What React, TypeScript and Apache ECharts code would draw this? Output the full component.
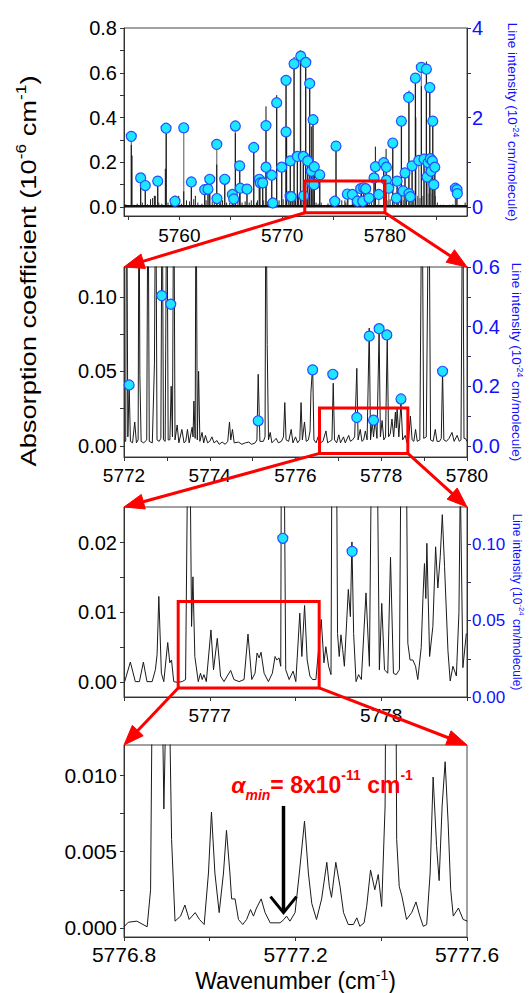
import React, { useEffect, useRef } from "react";
import * as echarts from "echarts";

const FONT = "'Liberation Sans', Arial, Helvetica, sans-serif";

// ---------- Panel 1 (overview) ----------
const xRangeP1 = [5754.62, 5787.98];
const yRangeP1 = [-0.04, 0.8];
const rRangeP1 = [-0.2, 4];
const xLabelsP1 = [5760, 5770, 5780];
const xTicksP1 = [5755, 5760, 5765, 5770, 5775, 5780, 5785];
const yLabelsP1 = [0, 0.2, 0.4, 0.6, 0.8];
const yTicksP1 = [0, 0.1, 0.2, 0.3, 0.4, 0.5, 0.6, 0.7, 0.8];
const rLabelsP1 = [0, 2, 4];
const rTicksP1 = [0, 1, 2, 3, 4];

// line intensities (wavenumber, 1e-24 cm/molecule)
const intensityP1 = [
  [5755.33, 1.58], [5756.24, 0.65], [5756.69, 0.48], [5757.9, 0.58], [5758.71, 1.76],
  [5759.58, 0.13], [5760.43, 1.77], [5761.17, 0.56], [5762.47, 0.39], [5762.79, 0.4],
  [5762.96, 0.62], [5763.64, 1.4], [5763.66, 0.19], [5764.42, 0.62], [5765.16, 0.28],
  [5765.29, 0.18], [5765.45, 1.81], [5765.87, 0.92], [5765.93, 0.42], [5766.58, 0.4],
  [5767.24, 1.33], [5767.78, 0.62], [5767.88, 0.54], [5768.11, 0.54], [5768.43, 1.82],
  [5768.43, 0.89], [5768.99, 0.71], [5769.09, 0.09], [5769.47, 2.33], [5769.96, 0.89],
  [5770.38, 2.83], [5770.38, 1.68], [5770.77, 0.24], [5770.89, 0.23], [5770.8, 1.03],
  [5771.16, 3.2], [5771.48, 1.13], [5771.81, 3.37], [5772.06, 1.13], [5772.1, 0.25],
  [5772.3, 3.23], [5772.49, 1.03], [5772.68, 2.76], [5772.84, 0.8], [5773.01, 1.95],
  [5772.9, 0.53], [5773.13, 0.9], [5773.1, 0.5], [5773.66, 0.72], [5775.12, 0.13],
  [5775.24, 1.36], [5776.34, 0.29], [5776.83, 0.28], [5777.32, 0.13], [5777.64, 0.41],
  [5777.84, 0.13], [5777.93, 0.43], [5778.13, 0.41], [5778.45, 0.2], [5778.94, 0.65],
  [5779.07, 0.9], [5779.4, 0.28], [5779.88, 0.99], [5780.14, 0.89], [5780.14, 0.6],
  [5780.37, 0.42], [5780.76, 1.43], [5781.11, 0.2], [5781.18, 0.58], [5781.6, 1.92],
  [5781.76, 0.36], [5781.95, 0.76], [5782.31, 2.45], [5782.34, 0.3], [5782.47, 0.23],
  [5782.64, 0.92], [5782.96, 2.88], [5783.29, 1.04], [5783.54, 3.12], [5783.8, 1.07],
  [5784.03, 3.08], [5784.09, 0.67], [5784.19, 0.99], [5784.36, 2.67], [5784.42, 1.08],
  [5784.49, 0.8], [5784.61, 1.03], [5784.65, 1.92], [5784.85, 0.89], [5784.75, 0.5],
  [5786.85, 0.42], [5787.01, 0.39], [5787.04, 0.3],
];

// absorption peaks in the overview (wavenumber, 1e-6 cm-1)
const sticksP1 = [
  [5755.33, 0.278], [5755.4, 0.23], [5756.24, 0.118], [5756.69, 0.08], [5757.57, 0.05],
  [5757.66, 0.05], [5757.9, 0.1], [5758.64, 0.171], [5758.73, 0.35], [5759.61, 0.05],
  [5759.94, 0.05], [5760.43, 0.07], [5761.17, 0.09], [5761.56, 0.05], [5762.47, 0.07],
  [5762.79, 0.07], [5762.96, 0.12], [5763.64, 0.19], [5764.03, 0.03], [5764.42, 0.12],
  [5765.15, 0.045], [5765.45, 0.33], [5765.88, 0.17], [5766.58, 0.08], [5767.24, 0.262],
  [5767.78, 0.12], [5768.11, 0.1], [5768.43, 0.45], [5768.99, 0.13], [5769.47, 0.5],
  [5769.96, 0.17], [5770.38, 0.56], [5770.44, 0.33], [5770.79, 0.2], [5771.16, 0.67],
  [5771.48, 0.21], [5771.77, 0.7], [5772.06, 0.2], [5772.29, 0.64], [5772.49, 0.19],
  [5772.68, 0.55], [5772.84, 0.36], [5773.0, 0.39], [5773.13, 0.17], [5773.66, 0.14],
  [5774.46, 0.016], [5775.24, 0.27], [5776.4, 0.054], [5776.88, 0.042], [5777.43, 0.052],
  [5777.72, 0.079], [5777.95, 0.077], [5778.14, 0.073], [5778.94, 0.13], [5779.07, 0.27],
  [5779.88, 0.2], [5780.11, 0.26], [5780.76, 0.29], [5781.18, 0.12], [5781.6, 0.385],
  [5781.95, 0.15], [5782.34, 0.52], [5782.64, 0.185], [5782.96, 0.58], [5783.0, 0.4],
  [5783.54, 0.54], [5783.8, 0.21], [5784.03, 0.65], [5784.36, 0.53], [5784.65, 0.385],
  [5784.85, 0.17], [5786.92, 0.08],
];

const smallSticksP1 = [
  [5754.8, 0.012], [5755.1, 0.008], [5755.6, 0.01], [5755.9, 0.015], [5756.4, 0.02],
  [5756.9, 0.012], [5757.2, 0.035], [5757.4, 0.04], [5758.0, 0.02], [5758.3, 0.015],
  [5758.9, 0.02], [5759.2, 0.03], [5759.8, 0.02], [5760.2, 0.015], [5760.7, 0.03],
  [5761.0, 0.025], [5761.4, 0.035], [5761.8, 0.02], [5762.2, 0.015], [5762.6, 0.03],
  [5763.2, 0.025], [5763.4, 0.02], [5763.9, 0.015], [5764.2, 0.03], [5764.6, 0.02],
  [5764.9, 0.018], [5765.3, 0.025], [5765.7, 0.03], [5766.1, 0.02], [5766.4, 0.025],
  [5766.8, 0.02], [5767.0, 0.03], [5767.5, 0.02], [5767.6, 0.03], [5768.2, 0.03],
  [5768.6, 0.025], [5768.8, 0.03], [5769.2, 0.04], [5769.3, 0.025], [5769.7, 0.03],
  [5770.1, 0.035], [5770.6, 0.04], [5771.0, 0.04], [5771.3, 0.03], [5771.6, 0.045],
  [5771.9, 0.03], [5772.2, 0.04], [5772.4, 0.03], [5772.6, 0.04], [5772.9, 0.05],
  [5773.3, 0.02], [5773.5, 0.015], [5773.8, 0.02], [5774.0, 0.008], [5774.3, 0.006],
  [5774.6, 0.01], [5774.9, 0.005], [5775.5, 0.02], [5775.8, 0.03], [5776.1, 0.03],
  [5776.2, 0.02], [5776.7, 0.01], [5777.0, 0.008], [5777.3, 0.01], [5777.6, 0.012],
  [5777.8, 0.018], [5778.0, 0.017], [5778.3, 0.025], [5778.5, 0.03], [5778.7, 0.02],
  [5779.3, 0.01], [5779.6, 0.01], [5780.3, 0.03], [5780.5, 0.035], [5780.9, 0.03],
  [5781.3, 0.03], [5781.5, 0.04], [5781.8, 0.03], [5782.1, 0.04], [5782.5, 0.03],
  [5782.8, 0.04], [5783.2, 0.05], [5783.4, 0.04], [5783.7, 0.05], [5784.2, 0.06],
  [5784.5, 0.06], [5784.7, 0.08], [5784.9, 0.05], [5785.1, 0.02], [5785.4, 0.01],
  [5785.7, 0.01], [5786.0, 0.008], [5786.3, 0.01], [5786.6, 0.012], [5787.2, 0.01],
  [5787.5, 0.008], [5787.8, 0.02],
];
const baselineP1 = [[5754.62, 0.004], [5787.98, 0.004]];

// ---------- Panel 2 ----------
const xRangeP2 = [5772, 5780];
const yRangeP2 = [-0.0075, 0.12];
const rRangeP2 = [-0.0375, 0.6];
const xLabelsP2 = [5772, 5774, 5776, 5778, 5780];
const xTicksP2 = [5772, 5773, 5774, 5775, 5776, 5777, 5778, 5779, 5780];
const yLabelsP2 = [0, 0.05, 0.1];
const yTicksP2 = [0, 0.025, 0.05, 0.075, 0.1];
const rLabelsP2 = [0, 0.2, 0.4, 0.6];
const rTicksP2 = [0, 0.1, 0.2, 0.3, 0.4, 0.5, 0.6];

const intensityP2 = [
  [5772.12, 0.204], [5772.88, 0.504], [5773.09, 0.475], [5775.13, 0.084], [5776.4, 0.255],
  [5776.87, 0.24], [5777.43, 0.095], [5777.72, 0.368], [5777.82, 0.086], [5777.95, 0.393],
  [5778.13, 0.372], [5778.46, 0.157], [5779.43, 0.25],
];

const spectrumP2 = [
  [5772.0, 0.004], [5772.04, 0.003], [5772.06, 0.2], [5772.09, 0.006], [5772.12, 0.041],
  [5772.15, 0.003], [5772.2, 0.002], [5772.25, 0.016], [5772.29, 0.002], [5772.33, 0.004],
  [5772.35, 0.2], [5772.37, 0.047], [5772.4, 0.003], [5772.46, 0.002], [5772.53, 0.004],
  [5772.56, 0.2], [5772.59, 0.003], [5772.66, 0.002], [5772.71, 0.055], [5772.74, 0.2],
  [5772.77, 0.004], [5772.82, 0.003], [5772.86, 0.005], [5772.89, 0.2], [5772.92, 0.004],
  [5772.96, 0.003], [5773.0, 0.2], [5773.03, 0.004], [5773.07, 0.004], [5773.1, 0.04],
  [5773.13, 0.006], [5773.16, 0.2], [5773.19, 0.004], [5773.24, 0.014], [5773.28, 0.002],
  [5773.35, 0.011], [5773.4, 0.002], [5773.44, 0.003], [5773.48, 0.011], [5773.52, 0.002],
  [5773.59, 0.0125], [5773.61, 0.006], [5773.63, 0.03], [5773.66, 0.005], [5773.68, 0.2],
  [5773.71, 0.004], [5773.74, 0.05], [5773.77, 0.003], [5773.82, 0.009], [5773.86, 0.002],
  [5773.9, 0.007], [5773.95, 0.002], [5774.0, 0.003], [5774.05, 0.006], [5774.1, 0.002],
  [5774.17, 0.0035], [5774.22, 0.001], [5774.29, 0.0025], [5774.36, 0.001], [5774.42, 0.003],
  [5774.46, 0.016], [5774.49, 0.004], [5774.53, 0.011], [5774.57, 0.002], [5774.67, 0.0025],
  [5774.75, 0.001], [5774.83, 0.002], [5774.91, 0.0025], [5774.98, 0.001], [5775.06, 0.002],
  [5775.1, 0.004], [5775.13, 0.048], [5775.17, 0.003], [5775.25, 0.003], [5775.29, 0.006],
  [5775.31, 0.2], [5775.34, 0.068], [5775.37, 0.004], [5775.41, 0.009], [5775.45, 0.002],
  [5775.55, 0.005], [5775.6, 0.002], [5775.67, 0.003], [5775.72, 0.006], [5775.75, 0.029],
  [5775.78, 0.004], [5775.84, 0.003], [5775.9, 0.011], [5775.94, 0.002], [5776.0, 0.006],
  [5776.05, 0.002], [5776.1, 0.004], [5776.13, 0.029], [5776.16, 0.004], [5776.21, 0.016],
  [5776.25, 0.003], [5776.3, 0.004], [5776.34, 0.01], [5776.36, 0.036], [5776.4, 0.054],
  [5776.43, 0.004], [5776.48, 0.002], [5776.54, 0.007], [5776.58, 0.002], [5776.64, 0.003],
  [5776.71, 0.01], [5776.75, 0.002], [5776.8, 0.003], [5776.85, 0.004], [5776.88, 0.042],
  [5776.91, 0.004], [5776.96, 0.002], [5777.01, 0.0074], [5777.05, 0.002], [5777.12, 0.006],
  [5777.16, 0.002], [5777.24, 0.007], [5777.28, 0.003], [5777.33, 0.004], [5777.38, 0.006],
  [5777.43, 0.052], [5777.46, 0.004], [5777.51, 0.011], [5777.55, 0.003], [5777.59, 0.004],
  [5777.63, 0.01], [5777.67, 0.004], [5777.72, 0.079], [5777.75, 0.004], [5777.79, 0.016],
  [5777.82, 0.006], [5777.86, 0.018], [5777.9, 0.005], [5777.95, 0.077], [5777.98, 0.006],
  [5778.02, 0.017], [5778.06, 0.004], [5778.1, 0.006], [5778.14, 0.073], [5778.17, 0.006],
  [5778.21, 0.008], [5778.25, 0.018], [5778.29, 0.006], [5778.33, 0.0226], [5778.35, 0.012],
  [5778.37, 0.025], [5778.41, 0.006], [5778.46, 0.029], [5778.5, 0.004], [5778.56, 0.007],
  [5778.6, 0.002], [5778.64, 0.005], [5778.68, 0.02], [5778.72, 0.004], [5778.76, 0.003],
  [5778.8, 0.011], [5778.84, 0.003], [5778.9, 0.004], [5778.95, 0.2], [5778.99, 0.005],
  [5779.05, 0.006], [5779.11, 0.2], [5779.15, 0.004], [5779.21, 0.003], [5779.26, 0.011],
  [5779.3, 0.003], [5779.36, 0.003], [5779.4, 0.005], [5779.43, 0.05], [5779.46, 0.004],
  [5779.52, 0.003], [5779.58, 0.005], [5779.65, 0.009], [5779.7, 0.003], [5779.77, 0.007],
  [5779.82, 0.003], [5779.86, 0.004], [5779.9, 0.2], [5779.93, 0.005], [5779.96, 0.005],
  [5780.0, 0.003],
];

// ---------- Panel 3 ----------
const xRangeP3 = [5776.5, 5778.5];
const yRangeP3 = [-0.0021, 0.0251];
const rRangeP3 = [0, 0.1245];
const xLabelsP3 = [5777, 5778];
const xTicksP3 = [5776.5, 5777, 5777.5, 5778, 5778.5];
const yLabelsP3 = [0, 0.01, 0.02];
const yTicksP3 = [0, 0.005, 0.01, 0.015, 0.02];
const rLabelsP3 = [0, 0.05, 0.1];
const rTicksP3 = [0, 0.025, 0.05, 0.075, 0.1];

const intensityP3 = [[5777.426, 0.104], [5777.83, 0.0954]];

const spectrumP3 = [
  [5776.504, 0.0001], [5776.537, 0.0029], [5776.566, 0.0001], [5776.59, 0.0001], [5776.613, 0.0029],
  [5776.634, 0.0001], [5776.664, 0.0001], [5776.683, 0.0018], [5776.693, 0.004], [5776.703, 0.0123],
  [5776.718, 0.0013], [5776.732, 0.0001], [5776.755, 0.0057], [5776.767, 0.0028], [5776.777, 0.0032],
  [5776.79, 0.0001], [5776.81, 0.0], [5776.839, 0.0001], [5776.859, 0.0004], [5776.874, 0.04],
  [5776.886, 0.03], [5776.894, 0.008], [5776.902, 0.0151], [5776.913, 0.0037], [5776.933, 0.0001],
  [5776.946, 0.0013], [5776.956, 0.0004], [5776.966, 0.0011], [5776.98, 0.0001], [5777.007, 0.0075],
  [5777.022, 0.0018], [5777.044, 0.0063], [5777.063, 0.0009], [5777.083, 0.0001], [5777.102, 0.0009],
  [5777.122, 0.0017], [5777.141, 0.0004], [5777.171, 0.0001], [5777.2, 0.0004], [5777.223, 0.0069],
  [5777.245, 0.0004], [5777.264, 0.0013], [5777.276, 0.0042], [5777.288, 0.0035], [5777.299, 0.0043],
  [5777.317, 0.0013], [5777.342, 0.0001], [5777.365, 0.0013], [5777.381, 0.0037], [5777.391, 0.0032],
  [5777.404, 0.0035], [5777.414, 0.0023], [5777.418, 0.04], [5777.432, 0.04], [5777.443, 0.0018],
  [5777.463, 0.0004], [5777.486, 0.0016], [5777.502, 0.0001], [5777.525, 0.0099], [5777.537, 0.0037],
  [5777.553, 0.011], [5777.568, 0.0032], [5777.584, 0.0009], [5777.599, 0.0004], [5777.619, 0.0004],
  [5777.65, 0.009], [5777.666, 0.0028], [5777.677, 0.0051], [5777.693, 0.0023], [5777.707, 0.0011],
  [5777.72, 0.079], [5777.736, 0.05], [5777.745, 0.007], [5777.755, 0.0037], [5777.765, 0.0068],
  [5777.775, 0.0047], [5777.785, 0.0023], [5777.808, 0.0133], [5777.82, 0.0094], [5777.829, 0.0201],
  [5777.839, 0.007], [5777.853, 0.0001], [5777.868, 0.0011], [5777.884, 0.0004], [5777.911, 0.0128],
  [5777.931, 0.0023], [5777.96, 0.077], [5777.97, 0.05], [5777.989, 0.0018], [5778.003, 0.0113],
  [5778.019, 0.0018], [5778.038, 0.0013], [5778.054, 0.0179], [5778.071, 0.0013], [5778.087, 0.0011],
  [5778.106, 0.0018], [5778.126, 0.073], [5778.141, 0.05], [5778.155, 0.0056], [5778.168, 0.0032],
  [5778.184, 0.0032], [5778.2, 0.0023], [5778.213, 0.0004], [5778.233, 0.005], [5778.243, 0.012],
  [5778.252, 0.017], [5778.26, 0.012], [5778.266, 0.0199], [5778.282, 0.0037], [5778.301, 0.008],
  [5778.317, 0.0194], [5778.33, 0.0135], [5778.344, 0.018], [5778.356, 0.024], [5778.369, 0.0166],
  [5778.389, 0.0045], [5778.402, 0.0002], [5778.418, 0.0023], [5778.438, 0.0009], [5778.453, 0.01],
  [5778.461, 0.029], [5778.476, 0.0021], [5778.496, 0.007],
];

// ---------- Panel 4 ----------
const xRangeP4 = [5776.8, 5777.6];
const yRangeP4 = [-0.0006, 0.012];
const xLabelsP4 = [5776.8, 5777.2, 5777.6];
const xTicksP4 = [5776.8, 5777.0, 5777.2, 5777.4, 5777.6];
const yLabelsP4 = [0, 0.005, 0.01];
const yTicksP4 = [0, 0.0025, 0.005, 0.0075, 0.01];

const spectrumP4 = [
  [5776.8, 0.00007], [5776.81, 0.00037], [5776.83, 0.00044], [5776.854, 0.00007], [5776.862, 0.0025],
  [5776.867, 0.02], [5776.876, 0.04], [5776.887, 0.02], [5776.893, 0.0078], [5776.898, 0.015],
  [5776.903, 0.016], [5776.907, 0.013], [5776.911, 0.0058], [5776.919, 0.00044], [5776.932, 0.00077],
  [5776.942, 0.0015], [5776.952, 0.00055], [5776.966, 0.001], [5776.976, 0.00055], [5776.987, 0.00022],
  [5776.997, 0.0036], [5777.004, 0.0076], [5777.012, 0.0036], [5777.022, 0.001], [5777.032, 0.0036],
  [5777.039, 0.0064], [5777.047, 0.0036], [5777.051, 0.0019], [5777.059, 0.0019], [5777.067, 0.00055],
  [5777.077, 0.00022], [5777.086, 0.00055], [5777.095, 0.0012], [5777.102, 0.00077], [5777.109, 0.0013],
  [5777.12, 0.0019], [5777.129, 0.001], [5777.141, 0.00033], [5777.152, 0.00033], [5777.164, 0.00033],
  [5777.173, 0.00055], [5777.179, 0.00077], [5777.187, 0.00044], [5777.199, 0.001], [5777.209, 0.0036],
  [5777.221, 0.007], [5777.23, 0.0036], [5777.238, 0.0016], [5777.249, 0.00055], [5777.261, 0.0019],
  [5777.273, 0.0043], [5777.279, 0.0027], [5777.284, 0.002], [5777.294, 0.0043], [5777.304, 0.0027],
  [5777.312, 0.001], [5777.323, 0.00022], [5777.335, 0.00022], [5777.343, 0.00066], [5777.35, 0.0001],
  [5777.36, 0.00033], [5777.366, 0.0014], [5777.375, 0.0038], [5777.385, 0.0025], [5777.393, 0.0035],
  [5777.401, 0.0014], [5777.409, 0.008], [5777.413, 0.03], [5777.422, 0.05], [5777.432, 0.03],
  [5777.436, 0.0058], [5777.442, 0.0027], [5777.448, 0.0021], [5777.459, 0.00055], [5777.471, 0.001],
  [5777.481, 0.0017], [5777.49, 0.00077], [5777.498, 0.0001], [5777.506, 0.00022], [5777.514, 0.0036],
  [5777.521, 0.0099], [5777.529, 0.0054], [5777.535, 0.0031], [5777.542, 0.008], [5777.549, 0.0109],
  [5777.556, 0.0069], [5777.562, 0.0025], [5777.568, 0.00077], [5777.58, 0.0013], [5777.591, 0.00055],
  [5777.601, 0.00044],
];

// zoom boxes (data coordinates in the panel they are drawn on)
const boxP1 = [5772.2, 5780.0, -0.0255, 0.116];
const boxP2 = [5776.56, 5778.62, -0.0051, 0.0253];
const boxP3 = [5776.816, 5777.638, -0.0008, 0.01157];
// arrow for detection limit in panel 4: x, from y, to y
const limitArrowP4 = [5777.172, 0.008, 0.001];
const limitLabelP4 = [5777.05, 0.0094];

const BLUE = "#1010ff";
const LINE = "#1a1a1a";

function fmt(d: number) {
  return (v: number) => Number(v).toFixed(d);
}

function xAxisCfg(grid: number, range: number[], labels: number[], ticks: number[], d: number, size: number, margin: number, extra: any = {}) {
  return {
    type: "value", gridIndex: grid, min: range[0], max: range[1],
    axisLine: { show: true, onZero: false, lineStyle: { color: "#333", width: 1 } },
    axisTick: { show: true, inside: false, length: 4, customValues: ticks, lineStyle: { color: "#333" } },
    axisLabel: { show: true, customValues: labels, formatter: fmt(d), color: "#000", fontSize: size, fontFamily: FONT, margin },
    splitLine: { show: false },
    ...extra,
  };
}

function yAxisCfg(grid: number, range: number[], labels: number[], ticks: number[], d: number, size: number, right: boolean, extra: any = {}) {
  return {
    type: "value", gridIndex: grid, min: range[0], max: range[1], position: right ? "right" : "left",
    axisLine: { show: true, onZero: false, lineStyle: { color: right ? "#2b2b70" : "#333", width: 1 } },
    axisTick: { show: true, inside: false, length: 4, customValues: ticks, lineStyle: { color: right ? "#2b2b70" : "#333" } },
    axisLabel: { show: true, customValues: labels, formatter: fmt(d), color: right ? BLUE : "#000", fontSize: size, fontFamily: FONT, margin: right ? 5 : 7 },
    splitLine: { show: false },
    ...extra,
  };
}

function intensityName(size: number) {
  return {
    name: "{t|Line intensity (10}{p|-24}{t| cm/molecule)}",
    nameLocation: "middle",
    nameRotate: -90,
    nameMoveOverlap: false,
    nameTruncate: { maxWidth: null },
    nameTextStyle: {
      color: BLUE,
      overflow: "none",
      rich: {
        t: { fontSize: size, fontFamily: FONT, color: BLUE, lineHeight: size + 2, verticalAlign: "bottom" },
        p: { fontSize: size * 0.65, fontFamily: FONT, color: BLUE, lineHeight: size * 0.7, verticalAlign: "top" },
      },
    },
  };
}

function stems(xi: number, yi: number, data: number[][], color: string, width: number, z: number) {
  return {
    type: "custom", xAxisIndex: xi, yAxisIndex: yi, data, clip: true, silent: true, z,
    encode: { x: 0, y: 1 },
    renderItem: (params: any, api: any) => {
      const x = api.value(0);
      const v = api.value(1);
      const a = api.coord([x, 0]);
      const b = api.coord([x, v]);
      return { type: "line", shape: { x1: a[0], y1: a[1], x2: b[0], y2: b[1] }, style: { stroke: color, lineWidth: width } };
    },
  };
}

function dots(xi: number, yi: number, data: number[][]) {
  return {
    type: "scatter", xAxisIndex: xi, yAxisIndex: yi, data, symbol: "circle", symbolSize: 10, z: 10, silent: true,
    itemStyle: { color: "#1fe6ff", borderColor: "#2250ff", borderWidth: 1.2, opacity: 1 },
  };
}

function spectrumLine(xi: number, yi: number, data: number[][]) {
  return {
    type: "line", xAxisIndex: xi, yAxisIndex: yi, data, showSymbol: false, symbol: "none", clip: true, silent: true, z: 4,
    lineStyle: { color: LINE, width: 1 },
  };
}

export default function App() {
  const ref = useRef<HTMLDivElement>(null);
  useEffect(() => {
    if (!ref.current) return;
    const chart = echarts.init(ref.current, undefined, { renderer: "svg" });
    const gridBox = { show: true, borderColor: "#444", borderWidth: 1, backgroundColor: "transparent", containLabel: false, outerBoundsMode: "none" };
    const option: any = {
      animation: false,
      backgroundColor: "#ffffff",
      grid: [
        { left: 124, top: 28, width: 343, height: 188, ...gridBox },
        { left: 124, top: 267, width: 343, height: 190, ...gridBox },
        { left: 124, top: 507, width: 343, height: 190, ...gridBox },
        { left: 124, top: 745, width: 343, height: 192, ...gridBox },
      ],
      xAxis: [
        xAxisCfg(0, xRangeP1, xLabelsP1, xTicksP1, 0, 19, 10),
        xAxisCfg(1, xRangeP2, xLabelsP2, xTicksP2, 0, 19, 9),
        xAxisCfg(2, xRangeP3, xLabelsP3, xTicksP3, 0, 19, 9),
        xAxisCfg(3, xRangeP4, xLabelsP4, xTicksP4, 1, 21, 7, {
          name: "{t|Wavenumber (cm}{p|-1}{t|)}",
          nameLocation: "middle",
          nameGap: 31,
          nameTextStyle: {
            rich: {
              t: { fontSize: 23, fontFamily: FONT, color: "#000", lineHeight: 24, verticalAlign: "bottom" },
              p: { fontSize: 14, fontFamily: FONT, color: "#000", lineHeight: 14, verticalAlign: "top" },
            },
          },
        }),
      ],
      yAxis: [
        yAxisCfg(0, yRangeP1, yLabelsP1, yTicksP1, 1, 20, false),
        yAxisCfg(0, rRangeP1, rLabelsP1, rTicksP1, 0, 20, true, { ...intensityName(13.5), nameGap: 38 }),
        yAxisCfg(1, yRangeP2, yLabelsP2, yTicksP2, 2, 20, false),
        yAxisCfg(1, rRangeP2, rLabelsP2, rTicksP2, 1, 20, true, { ...intensityName(13.5), nameGap: 42 }),
        yAxisCfg(2, yRangeP3, yLabelsP3, yTicksP3, 2, 20, false),
        yAxisCfg(2, rRangeP3, rLabelsP3, rTicksP3, 2, 17, true, { ...intensityName(12), nameGap: 44 }),
        yAxisCfg(3, yRangeP4, yLabelsP4, yTicksP4, 3, 21, false),
      ],
      series: [
        spectrumLine(0, 0, baselineP1),
        stems(0, 0, smallSticksP1, "#222", 1, 3),
        stems(0, 1, intensityP1, "#7d7d7d", 1.3, 4),
        stems(0, 0, sticksP1, "#111", 1, 5),
        dots(0, 1, intensityP1),
        spectrumLine(1, 2, spectrumP2),
        dots(1, 3, intensityP2),
        spectrumLine(2, 4, spectrumP3),
        dots(2, 5, intensityP3),
        spectrumLine(3, 6, spectrumP4),
      ],
    };
    (option.series[0] as any).lineStyle = { color: "#111", width: 2.5 };
    chart.setOption(option);

    const P = (xi: number, yi: number, x: number, y: number) =>
      chart.convertToPixel({ xAxisIndex: xi, yAxisIndex: yi } as any, [x, y]) as number[];

    const RED = "#ff0000";
    const els: any[] = [];
    const rect = (xi: number, yi: number, b: number[]) => {
      const a = P(xi, yi, b[0], b[3]);
      const c = P(xi, yi, b[1], b[2]);
      els.push({
        type: "rect", z: 100, silent: true,
        shape: { x: a[0], y: a[1], width: c[0] - a[0], height: c[1] - a[1] },
        style: { fill: "none", stroke: RED, lineWidth: 3 },
      });
      return { bl: [a[0], c[1]], br: [c[0], c[1]] };
    };
    const arrow = (from: number[], to: number[]) => {
      const dx = to[0] - from[0];
      const dy = to[1] - from[1];
      const len = Math.sqrt(dx * dx + dy * dy);
      const ux = dx / len, uy = dy / len;
      const L = 20, W = 7.5;
      const cx = to[0] - ux * L, cy = to[1] - uy * L;
      els.push({
        type: "line", z: 100, silent: true,
        shape: { x1: from[0], y1: from[1], x2: cx + ux * 2, y2: cy + uy * 2 },
        style: { stroke: RED, lineWidth: 3 },
      });
      els.push({
        type: "polygon", z: 101, silent: true,
        shape: { points: [to, [cx - uy * W, cy + ux * W], [cx + uy * W, cy - ux * W]] },
        style: { fill: RED, stroke: RED, lineWidth: 1 },
      });
    };

    const r1 = rect(0, 0, boxP1);
    arrow(r1.bl, P(1, 2, xRangeP2[0], yRangeP2[1]));
    arrow(r1.br, P(1, 2, xRangeP2[1], yRangeP2[1]));
    const r2 = rect(1, 2, boxP2);
    arrow(r2.bl, P(2, 4, xRangeP3[0], yRangeP3[1]));
    arrow(r2.br, P(2, 4, xRangeP3[1], yRangeP3[1]));
    const r3 = rect(2, 4, boxP3);
    arrow(r3.bl, P(3, 6, xRangeP4[0], yRangeP4[1]));
    arrow(r3.br, P(3, 6, xRangeP4[1], yRangeP4[1]));

    // detection-limit arrow
    const t0 = P(3, 6, limitArrowP4[0], limitArrowP4[1]);
    const t1 = P(3, 6, limitArrowP4[0], limitArrowP4[2]);
    els.push({
      type: "line", z: 100, silent: true,
      shape: { x1: t0[0], y1: t0[1], x2: t1[0], y2: t1[1] - 1 },
      style: { stroke: "#000", lineWidth: 3.5 },
    });
    els.push({
      type: "polyline", z: 100, silent: true,
      shape: { points: [[t1[0] - 13, t1[1] - 16], [t1[0], t1[1]], [t1[0] + 13, t1[1] - 16]] },
      style: { stroke: "#000", lineWidth: 3, fill: "none" },
    });
    const lp = P(3, 6, limitLabelP4[0], limitLabelP4[1]);
    els.push({
      type: "text", z: 100, silent: true, x: lp[0], y: lp[1],
      style: {
        text: "{a|α}{s|min}{b|= 8x10}{p|-11}{b| cm}{p|-1}",
        align: "left", verticalAlign: "middle",
        rich: {
          a: { fontSize: 23, fontFamily: FONT, fontStyle: "italic", fontWeight: "bold", fill: RED, color: RED, lineHeight: 34, verticalAlign: "middle" },
          s: { fontSize: 14, fontFamily: FONT, fontStyle: "italic", fontWeight: "bold", fill: RED, color: RED, lineHeight: 14, verticalAlign: "bottom" },
          b: { fontSize: 23, fontFamily: FONT, fontWeight: "bold", fill: RED, color: RED, lineHeight: 34, verticalAlign: "middle" },
          p: { fontSize: 14, fontFamily: FONT, fontWeight: "bold", fill: RED, color: RED, lineHeight: 14, verticalAlign: "top" },
        },
      },
    });

    // shared left title
    els.push({
      type: "text", z: 100, silent: true, x: 28, y: 271, rotation: Math.PI / 2, scaleX: 1.24,
      style: {
        text: "{t|Absorption coefficient (10}{p|-6}{t| cm}{p|-1}{t|)}",
        align: "center", verticalAlign: "middle",
        rich: {
          t: { fontSize: 22, fontFamily: FONT, fill: "#000", color: "#000", lineHeight: 28, verticalAlign: "middle" },
          p: { fontSize: 14, fontFamily: FONT, fill: "#000", color: "#000", lineHeight: 14, verticalAlign: "top" },
        },
      },
    });

    chart.setOption({ graphic: { elements: els } });
    return () => chart.dispose();
  }, []);
  return <div ref={ref} style={{ position: "fixed", left: 0, top: 0, width: 530, height: 993, background: "#fff" }} />;
}
